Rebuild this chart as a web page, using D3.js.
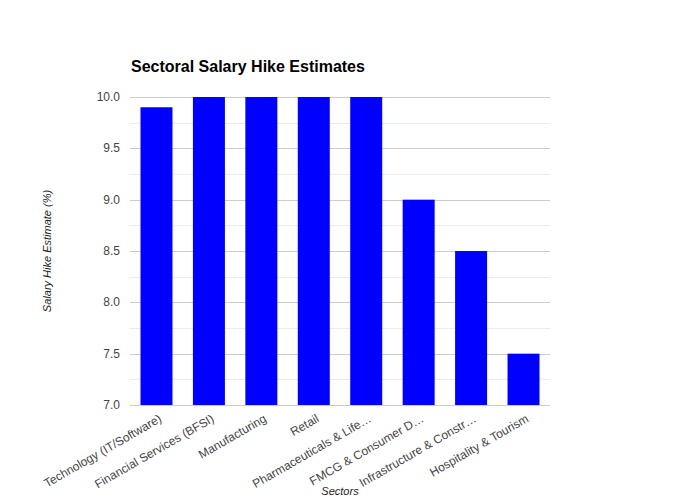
<!DOCTYPE html>
<html>
<head>
    <script src="https://d3js.org/d3.v7.min.js"></script>
    <style>
        body { margin: 0; background: #fff; }
        svg { font-family: "Liberation Sans", Arial, sans-serif; }
    </style>
</head>
<body>
    <svg id="chart" width="680" height="500"></svg>
    <script>
        const sectors = [
            "Technology (IT/Software)",
            "Financial Services (BFSI)",
            "Manufacturing",
            "Retail",
            "Pharmaceuticals & Life…",
            "FMCG & Consumer D…",
            "Infrastructure & Constr…",
            "Hospitality & Tourism"
        ];
        const hikes = [9.9, 10, 10, 10, 10, 9, 8.5, 7.5];
        const yTicks = [7.0, 7.5, 8.0, 8.5, 9.0, 9.5, 10.0];
        const yMinor = [7.25, 7.75, 8.25, 8.75, 9.25, 9.75];

        const svg = d3.select("#chart");
        const plotL = 130, plotR = 550, plotT = 97, plotB = 405;

        const x = d3.scaleBand().domain(sectors).range([plotL, plotR]).paddingInner(0.39).paddingOuter(0.2);
        const y = d3.scaleLinear().domain([7, 10]).range([plotB, plotT]);

        // minor gridlines
        svg.selectAll(".minor").data(yMinor).enter().append("line")
            .attr("x1", plotL).attr("x2", plotR)
            .attr("y1", d => Math.round(y(d)) + 0.5).attr("y2", d => Math.round(y(d)) + 0.5)
            .attr("stroke", "#ebebeb");

        // major gridlines
        svg.selectAll(".major").data(yTicks).enter().append("line")
            .attr("x1", plotL).attr("x2", plotR)
            .attr("y1", d => Math.round(y(d)) + 0.5).attr("y2", d => Math.round(y(d)) + 0.5)
            .attr("stroke", "#cccccc");

        // y tick labels
        svg.selectAll(".ylab").data(yTicks).enter().append("text")
            .attr("x", plotL - 10).attr("y", d => y(d) + 4)
            .attr("text-anchor", "end").attr("font-size", 12).attr("fill", "#444")
            .text(d => d.toFixed(1));

        // bars
        svg.selectAll(".bar").data(hikes).enter().append("rect")
            .attr("x", (d, i) => x(sectors[i]))
            .attr("width", x.bandwidth())
            .attr("y", d => y(d))
            .attr("height", d => y(7) - y(d))
            .attr("fill", "#0000ff");

        // x labels, rotated
        svg.selectAll(".xlab").data(sectors).enter().append("text")
            .attr("transform", d => `translate(${x(d) + x.bandwidth() / 2 + 6},${plotB + 16}) rotate(-30)`)
            .attr("text-anchor", "end").attr("font-size", 12).attr("fill", "#444")
            .text(d => d);

        // titles
        svg.append("text").attr("x", 131).attr("y", 72)
            .attr("font-size", 16).attr("font-weight", "bold").attr("fill", "#000")
            .text("Sectoral Salary Hike Estimates");

        svg.append("text").attr("x", 340).attr("y", 495)
            .attr("text-anchor", "middle").attr("font-size", 11).attr("font-style", "italic").attr("fill", "#222")
            .text("Sectors");

        svg.append("text")
            .attr("transform", `translate(51,${(plotT + plotB) / 2}) rotate(-90)`)
            .attr("text-anchor", "middle").attr("font-size", 11).attr("font-style", "italic").attr("fill", "#222")
            .text("Salary Hike Estimate (%)");
    </script>
</body>
</html>
